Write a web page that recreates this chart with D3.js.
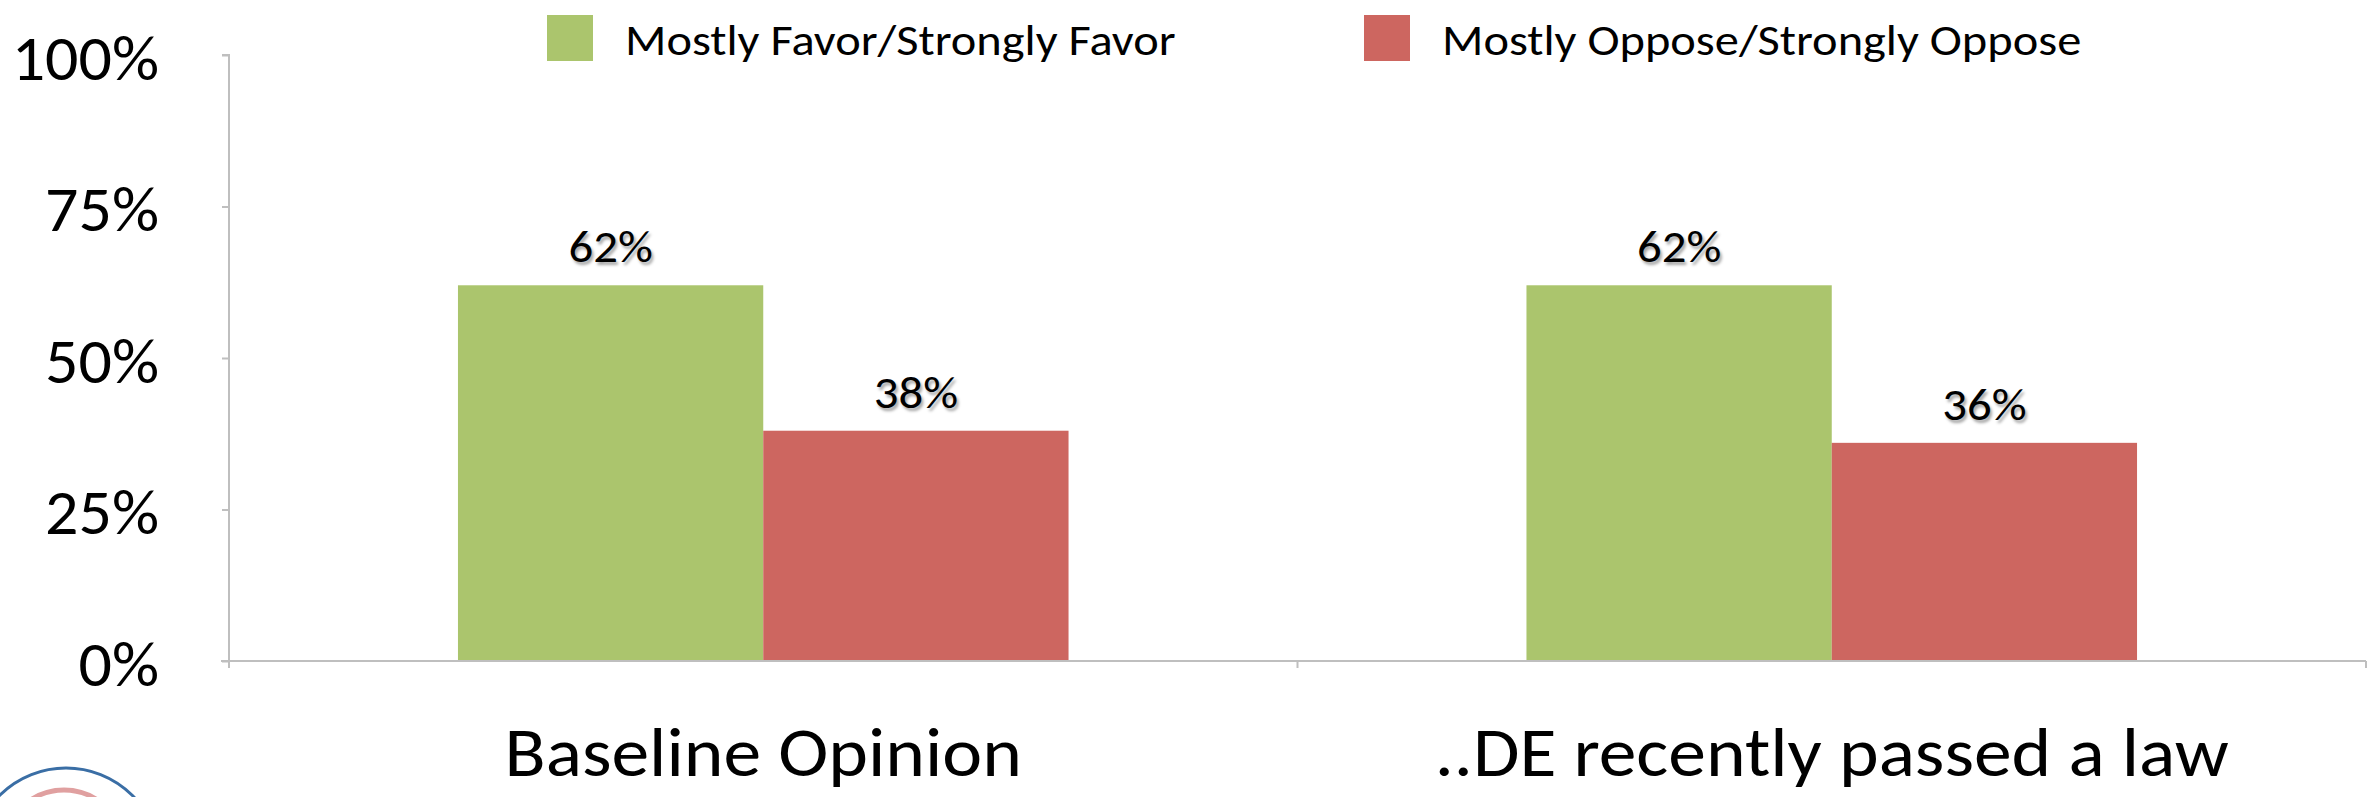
<!DOCTYPE html>
<html>
<head>
<meta charset="utf-8">
<script src="https://cdn.jsdelivr.net/npm/d3@7"></script>
<style>
  html, body { margin: 0; padding: 0; background: #ffffff; }
  svg text { font-family: Carlito, Calibri, Lato, "Open Sans", sans-serif; fill: #000; }
  .vlabel { text-shadow: 2px 3px 3px rgba(0,0,0,0.35); }
</style>
</head>
<body>
<svg id="chart" width="2375" height="797"></svg>
<script>
// ---- data ----
const categories = ["Baseline Opinion", "..DE recently passed a law"];
const series = ["Mostly Favor/Strongly Favor", "Mostly Oppose/Strongly Oppose"];
const favorValues = [0.62, 0.62];
const opposeValues = [0.38, 0.36];
const valueLabels = [["62%", "38%"], ["62%", "36%"]];
const yTicks = [0, 0.25, 0.5, 0.75, 1];
const yTickLabels = ["0%", "25%", "50%", "75%", "100%"];
const colors = ["#abc56d", "#cd6660"];

const svg = d3.select("#chart");
const plot = { left: 229, right: 2366, top: 55, bottom: 661 };

const y = d3.scaleLinear().domain([0, 1]).range([plot.bottom, plot.top]);
const x0 = d3.scaleBand().domain(categories).range([plot.left, plot.right]).paddingInner(0).paddingOuter(0);
const x1 = d3.scaleBand().domain(series).range([0, x0.bandwidth()]).paddingInner(0).paddingOuter(0.75);
const color = d3.scaleOrdinal().domain(series).range(colors);

const rows = categories.map((c, i) => ({
  cat: c,
  vals: [
    { s: series[0], v: favorValues[i], label: valueLabels[i][0] },
    { s: series[1], v: opposeValues[i], label: valueLabels[i][1] }
  ]
}));

// bars
const g = svg.append("g");
const groups = g.selectAll("g.cat").data(rows).enter().append("g")
  .attr("transform", d => `translate(${x0(d.cat)},0)`);
groups.selectAll("rect").data(d => d.vals).enter().append("rect")
  .attr("x", d => x1(d.s))
  .attr("width", x1.bandwidth())
  .attr("y", d => y(d.v))
  .attr("height", d => y(0) - y(d.v))
  .attr("fill", d => color(d.s));
groups.selectAll("text.vlabel").data(d => d.vals).enter().append("text")
  .attr("class", "vlabel")
  .attr("transform", d => `translate(${x1(d.s) + x1.bandwidth() / 2},${y(d.v) - 23}) scale(1.06,1)`)
  .attr("text-anchor", "middle")
  .style("font-size", "46px")
  .text(d => d.label);

// y axis
const yAxis = d3.axisLeft(y).tickValues(yTicks).tickFormat((d, i) => yTickLabels[i]).tickSize(7).tickPadding(0);
const ya = svg.append("g").attr("transform", `translate(${plot.left},0)`).call(yAxis);
ya.select(".domain").attr("stroke", "#bfbfbf").attr("stroke-width", 2).attr("d", `M-7,${plot.top}H0V${plot.bottom}`);
ya.selectAll(".tick line").attr("stroke", "#bfbfbf").attr("stroke-width", 2);
ya.selectAll(".tick text")
  .attr("x", null).attr("dy", null)
  .attr("transform", "translate(-70,24) scale(1.03,1)")
  .style("font-size", "64px")
  .style("font-family", 'Carlito, Calibri, Lato, "Open Sans", sans-serif')
  .attr("fill", "#000");

// x axis
const xa = svg.append("g").attr("transform", `translate(0,${plot.bottom})`);
xa.append("line").attr("x1", plot.left - 8).attr("x2", plot.right).attr("y1", 0).attr("y2", 0)
  .attr("stroke", "#bfbfbf").attr("stroke-width", 2);
const boundaries = [plot.left].concat(categories.map(c => x0(c) + x0.bandwidth()));
xa.selectAll("line.xt").data(boundaries).enter().append("line").attr("class", "xt")
  .attr("x1", d => d).attr("x2", d => d).attr("y1", 0).attr("y2", 7)
  .attr("stroke", "#bfbfbf").attr("stroke-width", 2);
svg.selectAll("text.cat").data(categories).enter().append("text").attr("class", "cat")
  .attr("transform", d => `translate(${x0(d) + x0.bandwidth() / 2},776) scale(1.08,1)`)
  .attr("text-anchor", "middle")
  .style("font-size", "70px")
  .text(d => d);

// legend
const legendX = [547, 1364];
const lg = svg.selectAll("g.leg").data(series).enter().append("g").attr("class", "leg")
  .attr("transform", (d, i) => `translate(${legendX[i]},15)`);
lg.append("rect").attr("width", 46).attr("height", 46).attr("fill", d => color(d));
lg.append("text").attr("transform", "translate(78,40) scale(1.10,1)").style("font-size", "44px").text(d => d);

// logo fragment (bottom-left)
svg.append("circle").attr("cx", 66).attr("cy", 862).attr("r", 94)
  .attr("fill", "none").attr("stroke", "#3a6ea5").attr("stroke-width", 3);
svg.append("circle").attr("cx", 64).attr("cy", 850).attr("r", 60)
  .attr("fill", "none").attr("stroke", "#e0a0a0").attr("stroke-width", 5);
</script>
</body>
</html>
